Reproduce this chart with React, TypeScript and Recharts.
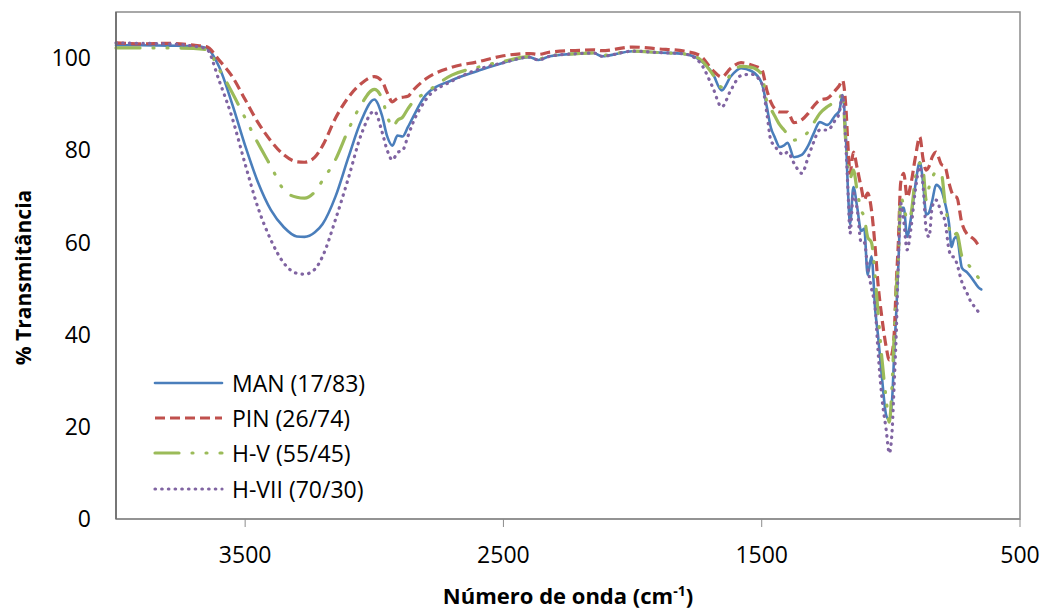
import React from 'react'
import {
  LineChart,
  Line,
  XAxis,
  YAxis,
  Legend,
  ReferenceArea,
} from 'recharts'

// wavenumbers (cm-1), high to low
const wavenumber = [
  4000, 3900, 3800, 3700, 3650, 3600, 3550, 3500, 3450, 3400, 3350, 3300, 3270, 3230, 3200,
  3150, 3100, 3050, 3000, 2970, 2950, 2930, 2910, 2890, 2870, 2850, 2800, 2700, 2600, 2500,
  2400, 2365, 2320, 2200, 2150, 2120, 2000, 1900, 1800, 1740, 1690, 1655, 1620, 1580, 1540,
  1500, 1480, 1465, 1450, 1430, 1415, 1400, 1375, 1345, 1320, 1300, 1275, 1245, 1215, 1200,
  1187, 1175, 1165, 1158, 1145, 1130, 1115, 1103, 1090, 1075, 1060, 1050, 1035, 1018, 1006,
  995, 987, 979, 971, 962, 950, 937, 923, 905, 888, 875, 863, 852, 840, 825,
  805, 790, 775, 765, 755, 745, 725, 705, 690, 675, 660, 650,
]

const man = [
  102.8, 102.8, 102.7, 102.6, 102.2, 98, 90, 81, 73, 67, 63.3, 61.3, 61.2, 62.2, 64,
  70, 78.5, 86.5, 91, 87.5, 83, 81, 83.2, 83, 85, 87.2, 92, 95.2, 97.2, 99,
  100.2, 99.6, 100.4, 101, 101.1, 100.4, 101.5, 101.2, 100.9, 99.6, 96.7, 93, 96, 97.8, 97.2,
  94.6, 89.4, 85, 82.9, 80.7, 81, 81.6, 78.5, 79, 81, 83.5, 86.1, 85.5, 87.6, 88.5,
  92, 84, 70, 64, 72, 67.5, 62.5, 63, 53, 57, 45, 40, 31, 22.5, 21.5,
  26, 36, 45, 55, 67.5, 67.5, 61.2, 65, 72.5, 77.4, 72.9, 66, 66.5, 69, 72.5,
  71.4, 68.5, 64.2, 59, 60.8, 61.2, 54.5, 53.5, 52.5, 51.3, 50.2, 49.8,
]

const pin = [
  103.3, 103.1, 103.2, 102.8, 102.5, 99.5, 96, 91, 86, 82, 79, 77.5, 77.4, 78.5, 81,
  87, 91.5, 94.5, 96, 95, 92.5, 90.5, 91.3, 91.5, 91.7, 93, 95.5, 98, 99.2, 100.5,
  101, 100.8, 101.3, 101.7, 101.8, 101.6, 102.4, 102, 101.5, 100.6, 97.4, 95.9, 97.8, 99, 98.5,
  97.5, 93, 90.5, 89, 88.3, 88.3, 88.3, 86, 86.6, 88, 89.5, 90.9, 91.3, 93, 94,
  95.2, 90, 80, 75, 79.6, 76, 72, 69.2, 70.7, 67, 58.4, 51.2, 43.8, 37.3, 34.5,
  36, 40.3, 51.2, 60, 72.9, 75, 69.8, 72.5, 78.5, 82.9, 78, 75.7, 76.5, 78.5, 79.6,
  77, 76.4, 72.9, 71, 70, 69.8, 64.2, 61.8, 61.2, 60.5, 59.4, 59,
]

const hv = [
  102.2, 102.2, 102.2, 102.1, 101.8, 97.5, 92.5, 87, 81.5, 76.5, 71.4, 69.8, 69.6, 71, 73.5,
  78, 84.5, 90, 93.2, 91.2, 87.5, 85, 86.5, 87.2, 89, 90.5, 92.5, 96.3, 98, 99.3,
  100.3, 99.8, 100.5, 101, 101.1, 100.6, 101.5, 101.2, 100.9, 99.8, 96.5, 93.7, 96.5, 98.2, 98,
  96.5, 90.5, 89, 87.5, 85.5, 84.5, 83.5, 82.2, 82.9, 84, 85.8, 88, 89.5, 90.5, 91,
  92.6, 82, 76, 74, 75.7, 71, 67, 65.5, 61.2, 60, 52, 45, 35, 26, 21,
  29.5, 40.3, 50, 56, 69.8, 68, 64.9, 66, 74, 77.2, 75.7, 69.2, 72, 74, 75.3,
  75, 68.5, 63.3, 61.2, 61.5, 62, 57, 55.5, 54.5, 53.5, 52.3, 52,
]

const hvii = [
  103.3, 103.2, 103.1, 102.6, 102, 95, 87, 77, 67.5, 60.5, 55.5, 53.3, 53.1, 54.2, 57,
  65, 74, 83.5, 88.5, 84, 80, 77.9, 79.5, 80, 83, 86, 91, 95, 97.5, 99,
  100.2, 99.6, 100.4, 101, 101.1, 100.4, 101.5, 101.2, 100.9, 99.1, 93.7, 89.4, 93, 96.2, 96.5,
  94.5, 88, 82.2, 81, 79.5, 79, 79.6, 77.2, 75, 78.5, 81.6, 84.4, 84.4, 86.6, 88,
  92, 82, 70, 62, 70.7, 67, 60, 60, 54.7, 50, 45.3, 36.7, 26.5, 19.3, 14.3,
  19.3, 29.5, 40.3, 56, 68.5, 64.5, 58.4, 62.7, 71.4, 76.4, 72, 62.7, 61.2, 67.7, 69.2,
  66.5, 64.5, 58.4, 57, 56.8, 55.5, 51.4, 49, 47.1, 46, 44.9, 44.5,
]

const xTicks = [3500, 2500, 1500, 500]
const yTicks = [0, 20, 40, 60, 80, 100]

const data = wavenumber.map((wn, i) => ({
  wn,
  man: man[i],
  pin: pin[i],
  hv: hv[i],
  hvii: hvii[i],
}))

const FONT = '"Open Sans", sans-serif'

const series = [
  { key: 'man', name: 'MAN (17/83)', color: '#4A7EBB', width: 2.6, dash: undefined, cap: 'round' },
  { key: 'pin', name: 'PIN (26/74)', color: '#C0504D', width: 3.2, dash: '10 5', cap: 'butt' },
  { key: 'hv', name: 'H-V (55/45)', color: '#9BBB59', width: 3.2, dash: '24 13 1 13 1 13', cap: 'round' },
  { key: 'hvii', name: 'H-VII (70/30)', color: '#8064A2', width: 3.2, dash: '0.5 6.2', cap: 'round' },
]

const LegendBox = () => (
  <div style={{ fontFamily: FONT, fontSize: 23, color: '#000' }}>
    {series.map((s) => (
      <div key={s.key} style={{ display: 'flex', alignItems: 'center', height: 35.3 }}>
        <svg width={77} height={12} style={{ marginRight: 2 }}>
          <line
            x1={2}
            x2={69}
            y1={6}
            y2={6}
            stroke={s.color}
            strokeWidth={s.width}
            strokeDasharray={s.dash}
            strokeLinecap={s.cap as any}
          />
        </svg>
        <span>{s.name}</span>
      </div>
    ))}
  </div>
)

export default function App() {
  return (
    <div style={{ position: 'absolute', left: 0, top: 0 }}>
      <LineChart
        width={1041}
        height={612}
        data={data}
        margin={{ top: 12, right: 21, bottom: 0, left: 0 }}
      >
        <ReferenceArea
          x1={4000}
          x2={500}
          y1={0}
          y2={110}
          fill="none"
          stroke="#8c8c8c"
          strokeWidth={1.5}
          fillOpacity={0}
        />
        <XAxis
          type="number"
          dataKey="wn"
          domain={[500, 4000]}
          reversed
          ticks={xTicks}
          interval={0}
          height={93}
          tickSize={8}
          tickMargin={20}
          tickLine={{ stroke: '#8c8c8c' }}
          axisLine={{ stroke: '#8c8c8c', strokeWidth: 1.5 }}
          tick={{ fill: '#000', fontSize: 23, fontFamily: FONT }}
          label={({ viewBox }: any) => (
            <text
              x={viewBox.x + viewBox.width / 2}
              y={viewBox.y + 85}
              textAnchor="middle"
              fontFamily={FONT}
              fontWeight="bold"
              fontSize={22}
              fill="#000"
            >
              Número de onda (cm
              <tspan dy={-8} fontSize={14}>-1</tspan>
              <tspan dy={8}>)</tspan>
            </text>
          )}
        />
        <YAxis
          type="number"
          domain={[0, 110]}
          ticks={yTicks}
          interval={0}
          width={116}
          tickLine={false}
          tickSize={0}
          tickMargin={25}
          axisLine={{ stroke: '#666', strokeWidth: 1.5 }}
          tick={{ fill: '#000', fontSize: 23, fontFamily: FONT }}
          label={({ viewBox }: any) => {
            const x = 31
            const y = viewBox.y + viewBox.height / 2 + 12
            return (
              <text
                x={x}
                y={y}
                transform={`rotate(-90, ${x}, ${y})`}
                textAnchor="middle"
                fontFamily={FONT}
                fontWeight="bold"
                fontSize={21}
                fill="#000"
              >
                % Transmitância
              </text>
            )
          }}
        />
        {series.map((s) => (
          <Line
            key={s.key}
            type="monotone"
            dataKey={s.key}
            name={s.name}
            stroke={s.color}
            strokeWidth={s.width}
            strokeDasharray={s.dash}
            strokeLinecap={s.cap as any}
            dot={false}
            activeDot={false}
            isAnimationActive={false}
          />
        ))}
        <Legend
          layout="vertical"
          align="center"
          verticalAlign="middle"
          content={() => <LegendBox />}
          wrapperStyle={{ left: 153, top: 365, width: 260, height: 145 }}
        />
      </LineChart>
    </div>
  )
}
